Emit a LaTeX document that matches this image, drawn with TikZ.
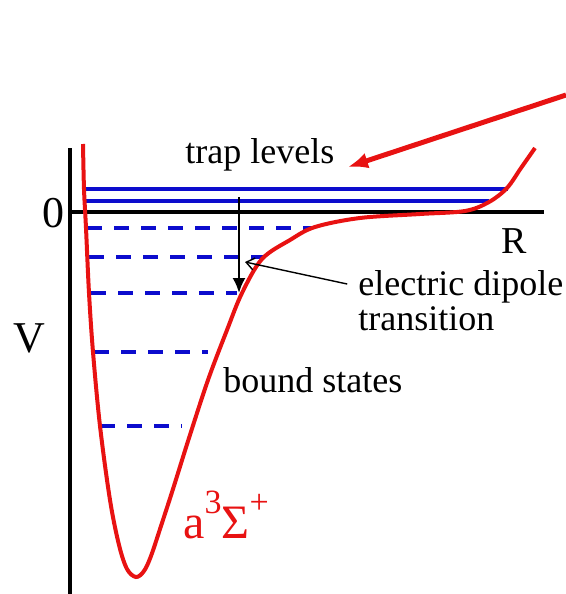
\documentclass[tikz,border=0pt]{standalone}
\usepackage{fontspec}
\setmainfont{Liberation Serif}
\usepackage{tikz}
\usetikzlibrary{arrows.meta, positioning}
\definecolor{potred}{RGB}{232,18,18}
\definecolor{levelblue}{RGB}{12,12,205}

\begin{document}
\begin{tikzpicture}[
  x=0.5pt, y=-0.5pt,
  lbl/.style={inner sep=0pt, anchor=base west, font=\fontsize{18}{20}\selectfont},
  biglbl/.style={inner sep=0pt, anchor=base west, font=\fontsize{22}{24}\selectfont},
  axis/.style={line width=1.7pt, black},
  pot/.style={line width=2pt, potred},
  trap/.style={line width=1.8pt, levelblue},
  bound/.style={line width=1.8pt, levelblue, dash pattern=on 7.5pt off 6pt},
  arr/.style={-{Latex[length=7.5pt,width=6.5pt]}, line width=1.1pt, black},
  thinarr/.style={-{Straight Barb[length=4pt,width=6pt]}, line width=0.7pt, black},
  redarr/.style={-{Latex[length=10pt,width=8pt]}, line width=2.5pt, potred}
]
  \useasboundingbox (0,0) rectangle (566,594);
  % Axes
  \draw[axis] (70,148) -- (70,594);
  \draw[axis] (70,212) -- (544,212);
  % Trap levels (above threshold)
  \draw[trap] (84,189) -- (508,189);
  \draw[trap] (84,201) -- (489,201);
  % Bound states
  \draw[bound] (87,228) -- (313,228);
  \draw[bound] (89,257) -- (263,257);
  \draw[bound] (91,293) -- (237,293);
  \draw[bound] (94,352) -- (208,352);
  \draw[bound] (100,426) -- (182,426);
  % Potential curve
  \draw[pot] plot[smooth, tension=0.55] coordinates {
    (83,144) (84,189) (86,228) (89,293) (93,352) (100,426) (110,500)
    (119,545) (127,569) (136,577) (144,571) (151,556) (161,526) (173,489)
    (189,438) (208,380) (227,330) (242,293) (262,259) (290,240) (315,227)
    (360,218) (420,214) (465,211) (489,202) (507,188) (521,168) (535,148)};
  % Labels
  \node[lbl] (trap) at (185,163) {trap levels};
  \node[biglbl] (zero) at (42,227) {0};
  \node[inner sep=0pt, anchor=base west, font=\fontsize{19}{21}\selectfont] (rlab) at (501,253) {R};
  \node[biglbl] (vlab) at (13,352) {V};
  \node[lbl] (dipole) at (358,295) {electric dipole};
  \node[lbl] (trans) at (358,330) {transition};
  \node[lbl] (bound) at (223,392) {bound states};
  \node[inner sep=0pt, anchor=base west, font=\fontsize{24}{26}\selectfont, text=potred] (state) at (183,538)
    {a\raisebox{12.5pt}{\fontsize{17}{18}\selectfont 3}Σ\raisebox{12.5pt}{\fontsize{17}{18}\selectfont +}};
  % Arrows
  \coordinate (tup) at (239,197);
  \coordinate (tdown) at (239,293);
  \coordinate (dtip) at (245,262);
  \coordinate (rstart) at (566,95);
  \coordinate (rtip) at (348,167);
  \draw[arr] (tup) -- (tdown);
  \draw[thinarr, shorten <=5.5pt] (dipole.west) -- (dtip);
  \draw[redarr] (rstart) -- (rtip);
\end{tikzpicture}
\end{document}
